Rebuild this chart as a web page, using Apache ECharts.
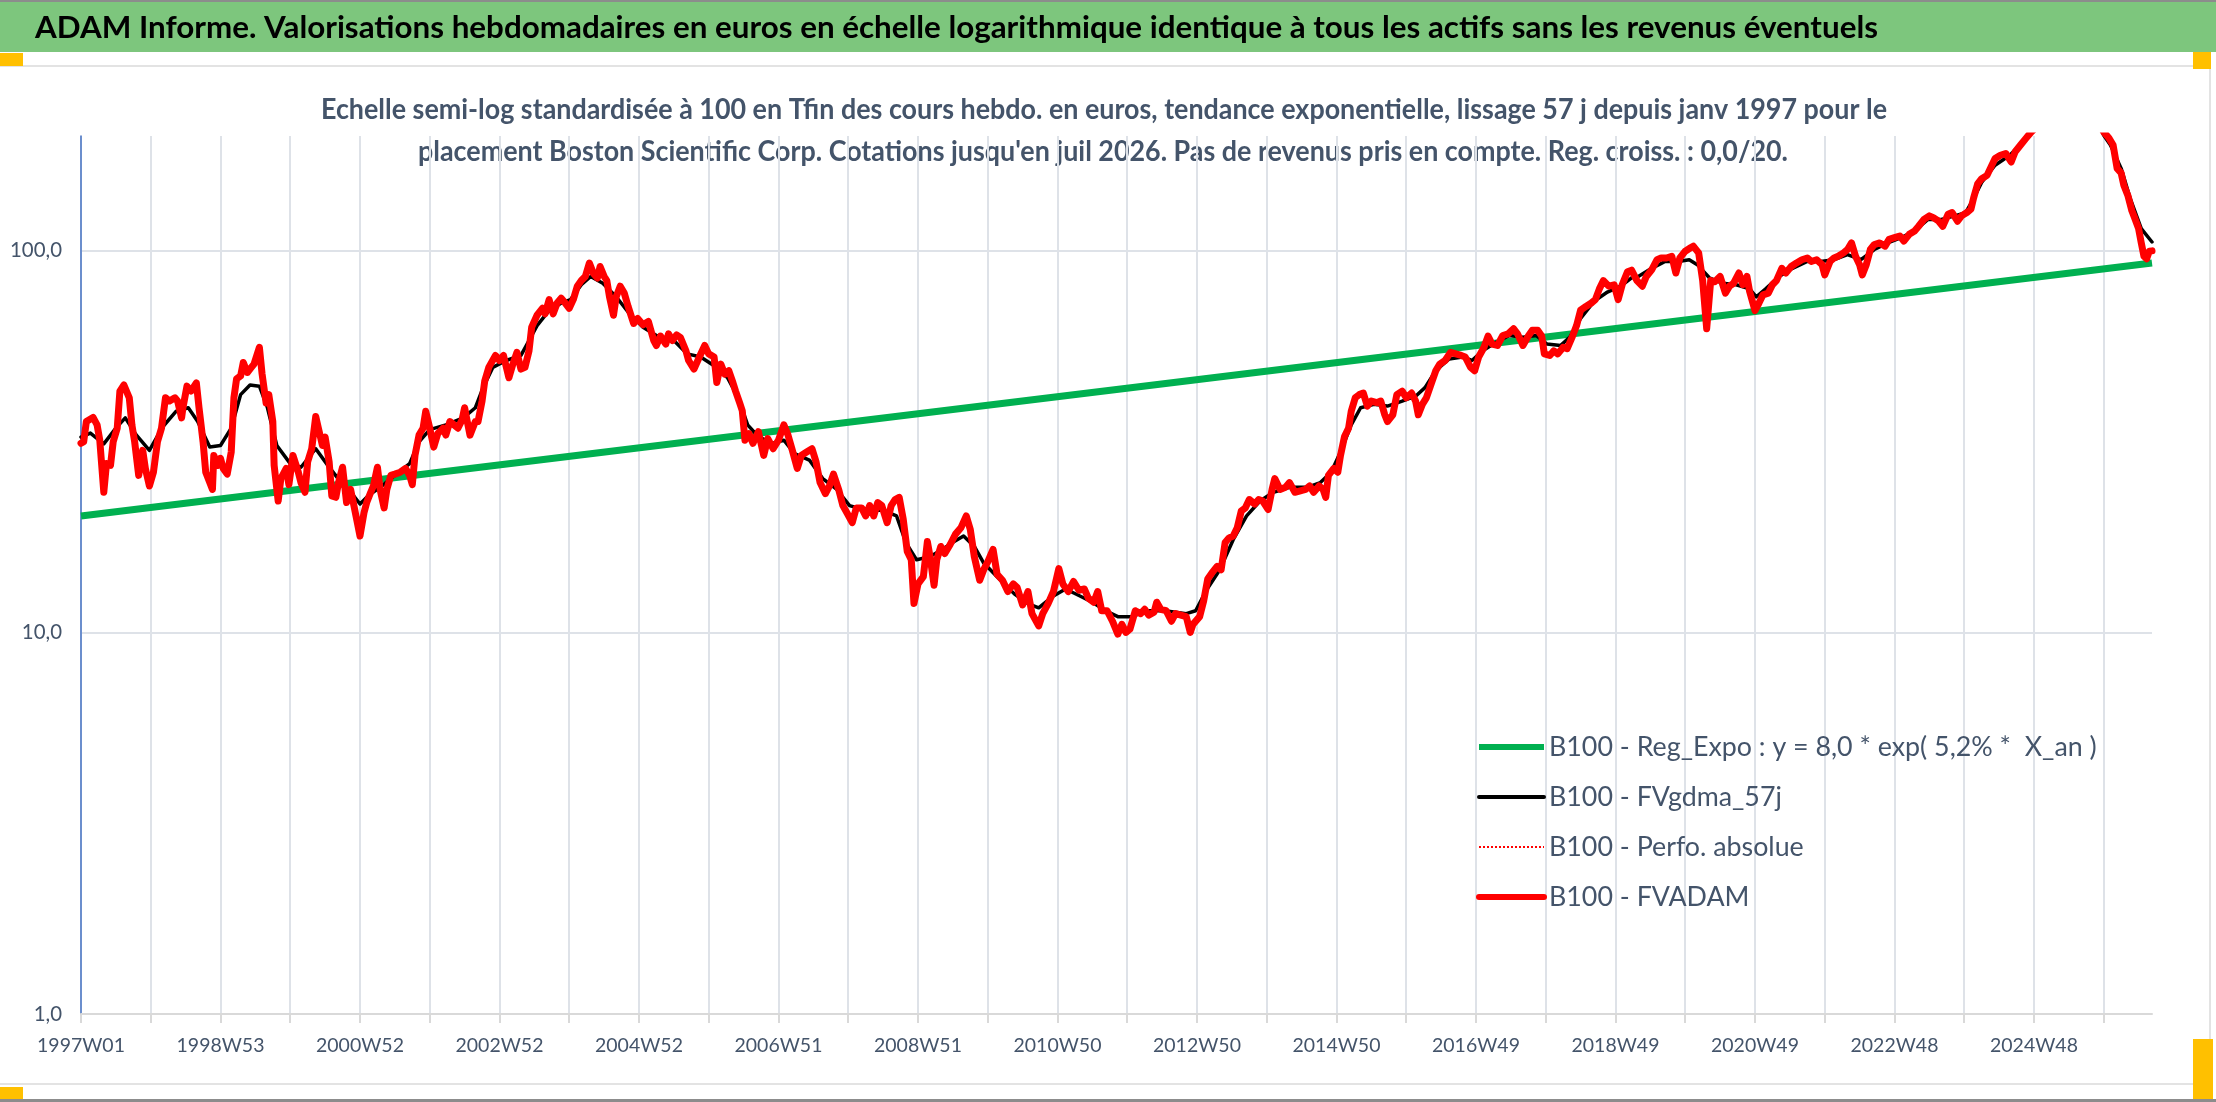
<!DOCTYPE html>
<html><head><meta charset="utf-8">
<script src="https://cdn.jsdelivr.net/npm/echarts@6/dist/echarts.min.js"></script>
<style>html,body{margin:0;padding:0;background:#fff;}#c{width:2216px;height:1102px;}</style>
</head><body><div id="c"></div><script>
// ---------- texts ----------
const TITLE = "ADAM Informe. Valorisations hebdomadaires en euros en échelle logarithmique identique à tous les actifs sans les revenus éventuels";
const SUB1 = "Echelle semi-log standardisée à 100 en Tfin des cours hebdo. en euros, tendance exponentielle, lissage 57 j depuis janv 1997 pour le";
const SUB2 = "placement Boston Scientific Corp. Cotations jusqu'en juil 2026. Pas de revenus pris en compte. Reg. croiss. : 0,0/20.";
const seriesNames = ["B100 - Reg_Expo : y = 8,0 * exp( 5,2% *  X_an )", "B100 - FVgdma_57j", "B100 - Perfo. absolue", "B100 - FVADAM"];

// ---------- categories: ISO weeks from 1997W01 ----------
const firstMonday = Date.UTC(1996, 11, 30);
const weekCount = 1545;
const categories = [];
for (let i = 0; i < weekCount; i++) {
  const thu = new Date(firstMonday + (i * 7 + 3) * 86400000);
  const y = thu.getUTCFullYear();
  const doy = Math.floor((thu - Date.UTC(y, 0, 1)) / 86400000) + 1;
  const wk = Math.floor((doy - 1) / 7) + 1;
  categories.push(y + 'W' + (wk < 10 ? '0' + wk : wk));
}

// ---------- data [week index, value] ----------
const regExpo = [[0, 20.2], [1544, 92.9]];

const fvgdma = [[0,32.5],[7,33.3],[17,31.2],[26,34.3],[33,36.5],[41,33.0],[51,30.0],[61,34.6],[71,38.0],[80,38.8],[87,35.7],[96,30.6],[104,30.9],[112,34.3],[119,42.0],[126,44.5],[133,44.2],[139,38.8],[146,30.9],[156,27.7],[164,27.1],[175,30.3],[184,27.4],[194,24.7],[202,23.1],[208,21.7],[214,22.8],[223,24.0],[234,25.8],[245,27.7],[252,31.6],[260,34.0],[272,35.0],[285,36.5],[294,38.8],[300,44.0],[307,49.5],[317,51.6],[328,53.2],[334,58.2],[340,63.7],[348,69.1],[358,73.0],[365,74.5],[373,81.5],[380,85.7],[389,82.2],[399,75.8],[409,68.4],[419,63.1],[429,60.0],[442,58.2],[452,53.7],[462,52.7],[472,50.0],[482,46.5],[490,41.2],[497,35.0],[505,32.6],[515,31.3],[524,31.9],[532,29.4],[543,28.3],[553,25.3],[563,23.8],[573,21.5],[585,20.9],[598,20.9],[608,20.2],[615,17.2],[623,15.5],[633,15.8],[643,16.6],[651,17.3],[658,17.9],[666,16.8],[673,15.2],[683,14.0],[696,12.6],[706,11.9],[714,11.6],[724,12.4],[734,13.0],[744,12.5],[754,12.0],[764,11.4],[773,11.0],[783,11.0],[796,11.4],[808,11.4],[824,11.2],[831,11.4],[839,12.9],[849,14.6],[859,17.5],[869,20.2],[879,22.1],[889,23.3],[901,24.0],[914,24.0],[924,24.7],[932,26.3],[939,29.7],[947,35.0],[954,38.8],[964,39.6],[974,39.2],[985,40.4],[995,41.6],[1002,43.8],[1010,48.5],[1020,52.1],[1030,52.7],[1037,51.6],[1045,54.7],[1055,57.6],[1065,60.0],[1075,59.4],[1085,60.0],[1093,57.0],[1103,56.5],[1110,59.4],[1118,66.5],[1128,73.7],[1138,78.0],[1148,80.8],[1156,85.0],[1161,85.7],[1171,90.0],[1181,93.8],[1191,93.8],[1199,94.8],[1205,92.0],[1214,85.0],[1224,82.2],[1234,81.5],[1244,79.5],[1249,75.8],[1256,79.5],[1266,85.7],[1276,90.0],[1287,93.8],[1297,93.8],[1307,94.8],[1317,97.8],[1327,94.8],[1337,100.8],[1347,104.9],[1357,108.3],[1367,112.7],[1377,120.9],[1387,120.9],[1397,123.5],[1405,126.0],[1410,135.0],[1417,151.2],[1427,167.7],[1438,178.1],[1448,193.2],[1455,205],[1465,218],[1475,226],[1485,229],[1495,226],[1503,214],[1508,201],[1513,189.4],[1521,164.5],[1528,136.4],[1536,114.4],[1544,105.5]];

const perfoAbsolue = [];

const fvadam = [[0,31.3],[2,31.6],[4,35.7],[9,36.6],[12,35.0],[14,31.9],[17,23.3],[19,27.7],[22,27.4],[24,31.6],[27,34.3],[29,42.9],[32,44.5],[36,41.2],[38,34.9],[40,31.6],[43,25.8],[46,30.0],[48,26.9],[51,24.2],[54,26.3],[57,31.6],[60,34.3],[63,41.2],[66,40.4],[70,41.2],[72,40.4],[75,36.5],[76,38.8],[79,44.2],[82,42.9],[86,45.1],[88,38.8],[91,31.6],[93,26.3],[96,24.7],[98,23.7],[99,29.1],[102,27.4],[104,28.6],[106,26.9],[109,26.0],[112,29.7],[114,41.2],[116,46.2],[119,47.0],[121,51.0],[124,48.0],[127,49.5],[129,50.5],[133,55.9],[135,47.6],[138,39.9],[140,42.0],[143,35.7],[144,27.4],[147,22.1],[149,25.3],[153,26.9],[155,24.4],[158,29.1],[162,26.3],[164,24.7],[167,23.3],[169,28.0],[172,30.3],[175,36.8],[177,34.3],[180,30.9],[182,32.5],[185,28.0],[187,22.8],[190,22.6],[192,24.7],[195,27.1],[198,21.9],[201,23.7],[203,21.9],[206,19.4],[208,17.9],[211,20.6],[213,21.9],[216,23.3],[218,24.2],[221,27.1],[223,23.7],[226,21.2],[228,23.7],[231,25.8],[234,26.0],[238,26.3],[242,26.9],[245,25.8],[247,24.4],[249,29.1],[252,32.9],[255,34.3],[257,38.0],[260,34.3],[263,30.6],[266,33.2],[270,34.3],[272,32.9],[275,35.7],[278,35.0],[281,34.3],[284,36.0],[286,38.8],[288,35.7],[290,32.9],[294,35.7],[296,35.7],[299,40.4],[301,45.6],[304,49.5],[309,53.2],[312,51.6],[315,53.2],[319,46.5],[322,50.5],[325,54.2],[328,49.0],[331,49.5],[334,54.7],[336,63.1],[340,67.8],[344,70.7],[346,68.4],[349,74.5],[352,68.4],[355,73.0],[358,75.2],[361,73.0],[364,70.7],[367,74.5],[370,80.8],[373,83.6],[376,85.7],[379,92.9],[382,87.3],[385,84.9],[387,91.0],[390,85.7],[392,83.6],[394,75.8],[397,67.8],[399,75.8],[402,80.8],[405,77.5],[408,71.3],[412,64.5],[415,66.5],[419,64.0],[423,65.3],[427,58.2],[429,56.5],[432,59.8],[436,57.0],[438,60.6],[441,58.2],[444,60.2],[447,59.2],[451,54.7],[453,51.6],[457,49.0],[461,52.7],[465,56.5],[468,53.7],[472,52.7],[474,45.2],[477,50.5],[480,47.5],[483,48.5],[486,45.2],[488,42.9],[491,40.0],[493,38.1],[495,31.9],[498,33.2],[501,31.3],[505,33.6],[509,29.1],[512,32.2],[516,30.3],[520,31.9],[524,35.0],[527,33.0],[530,30.3],[534,26.9],[537,29.1],[541,29.7],[545,30.3],[548,28.0],[551,24.7],[555,23.1],[558,24.2],[561,26.0],[565,23.6],[568,21.5],[571,20.6],[575,19.4],[578,21.2],[582,21.2],[585,20.2],[588,21.5],[591,20.2],[594,21.9],[597,21.5],[601,19.4],[604,21.5],[607,22.3],[610,22.6],[613,19.8],[616,16.3],[619,15.5],[621,11.9],[624,13.4],[628,14.0],[631,17.3],[633,15.8],[636,13.3],[638,15.5],[641,16.8],[644,16.1],[648,17.0],[652,18.1],[656,18.8],[660,20.2],[663,18.6],[666,15.8],[670,13.7],[673,14.6],[676,15.3],[680,16.5],[683,14.2],[687,13.7],[691,12.8],[695,13.4],[698,13.1],[702,11.8],[706,12.8],[709,11.2],[714,10.4],[717,11.2],[721,11.9],[725,12.8],[729,14.7],[732,13.4],[736,12.8],[740,13.6],[744,12.9],[748,13.0],[751,12.3],[755,12.0],[758,12.8],[761,11.4],[765,11.4],[769,10.7],[773,9.9],[776,10.5],[779,10.0],[782,10.2],[786,11.4],[790,11.2],[793,11.5],[796,11.1],[800,11.3],[802,12.0],[805,11.5],[809,11.4],[813,10.7],[816,11.2],[820,11.1],[824,11.0],[827,10.0],[829,10.5],[834,11.0],[837,12.1],[840,13.8],[843,14.3],[847,14.9],[850,14.6],[853,17.2],[856,17.7],[859,17.9],[862,18.8],[865,20.8],[868,21.2],[871,22.3],[875,21.7],[878,22.3],[881,22.1],[885,21.0],[888,23.7],[890,25.3],[894,23.7],[898,24.0],[901,24.7],[905,23.3],[909,23.5],[913,23.7],[916,24.2],[919,23.3],[923,24.2],[926,23.7],[928,22.6],[930,25.8],[934,26.9],[937,26.3],[939,29.1],[942,32.6],[945,34.3],[947,38.0],[950,41.2],[953,42.0],[956,42.4],[959,39.2],[962,40.4],[966,40.0],[969,40.4],[972,37.2],[974,35.7],[978,37.2],[981,42.0],[985,42.9],[988,41.2],[992,42.4],[995,40.4],[997,37.2],[1000,39.6],[1003,41.2],[1007,45.2],[1010,48.5],[1013,50.5],[1017,51.6],[1021,54.2],[1025,53.7],[1029,53.2],[1032,52.7],[1036,49.5],[1039,48.5],[1042,52.7],[1046,55.9],[1049,59.8],[1052,57.0],[1056,56.5],[1060,60.0],[1064,60.6],[1068,62.5],[1071,60.6],[1075,56.5],[1079,59.8],[1082,61.9],[1086,61.9],[1089,59.8],[1091,53.7],[1095,53.2],[1098,54.7],[1101,53.7],[1105,55.9],[1108,55.4],[1112,59.8],[1115,63.7],[1118,69.9],[1122,71.5],[1126,73.0],[1129,74.5],[1132,79.5],[1135,83.6],[1139,80.8],[1143,81.5],[1146,74.5],[1149,81.5],[1153,88.2],[1156,89.0],[1160,83.6],[1164,80.8],[1167,85.7],[1171,89.2],[1175,94.8],[1178,95.8],[1182,95.8],[1186,96.8],[1189,87.5],[1192,95.8],[1196,99.8],[1200,101.9],[1202,102.9],[1206,98.8],[1209,83.6],[1212,62.5],[1215,83.6],[1218,83.0],[1222,85.7],[1226,77.5],[1229,80.8],[1232,82.2],[1236,87.5],[1239,81.5],[1242,85.7],[1244,78.3],[1248,69.7],[1251,73.0],[1254,76.7],[1258,77.5],[1261,81.5],[1264,83.6],[1268,90.0],[1271,87.5],[1275,91.0],[1279,93.0],[1283,94.8],[1287,95.8],[1290,93.8],[1294,94.8],[1298,92.0],[1300,86.5],[1304,93.8],[1307,95.8],[1310,96.8],[1314,98.8],[1317,100.8],[1320,104.9],[1323,96.8],[1326,92.0],[1328,86.5],[1331,92.0],[1334,100.8],[1337,103.9],[1341,104.9],[1345,102.9],[1348,107.2],[1352,108.3],[1356,109.4],[1359,106.1],[1363,110.5],[1367,112.7],[1370,116.0],[1374,120.9],[1378,123.5],[1381,122.2],[1385,119.6],[1388,116.0],[1392,124.7],[1395,126.0],[1399,119.6],[1402,123.5],[1406,126.0],[1409,128.6],[1411,137.6],[1414,149.8],[1417,154.6],[1421,157.7],[1424,166.0],[1427,174.6],[1431,178.1],[1435,180.0],[1439,171.0],[1442,181.9],[1446,189.4],[1450,197.2],[1454,205],[1462,218],[1470,228],[1478,236],[1486,230],[1494,238],[1501,226],[1508,205],[1512,197.2],[1515,189.4],[1518,164.5],[1521,159.9],[1523,148.6],[1526,139.7],[1529,127.4],[1531,122.2],[1534,114.4],[1536,104.9],[1538,96.8],[1540,95.3],[1542,99.8],[1544,100.0]];

// ---------- font selection and sizing to the reference text boxes ----------
const mctx = document.createElement('canvas').getContext('2d');
function tw(font, s) { mctx.font = font; return mctx.measureText(s).width; }
function hasFont(f) {
  const s = 'abcdefghijklmnopqrstuvwxyzABCDEFGH0123456789';
  return tw('40px "' + f + '", monospace', s) !== tw('40px monospace', s);
}
const HEADNAME = ['Lato', 'Open Sans', 'DejaVu Sans'].find(hasFont);
const HEAD = HEADNAME ? '"' + HEADNAME + '"' : 'sans-serif';
const BODYNAME = ['Lato', 'DejaVu Sans Condensed', 'Liberation Sans'].find(hasFont);
const FAM = BODYNAME ? '"' + BODYNAME + '"' : 'sans-serif';
function fit(s, weight, fam, target) { return 100 * target / tw(weight + ' 100px ' + fam, s); }
// title / subtitle: size from cap height, then horizontal squeeze to the measured width
const fsTitle = 30.5, fsSub = 29;
const sxTitle = 1843 / tw('bold ' + fsTitle + 'px ' + HEAD, TITLE);
const sxSub = 1566 / tw('bold ' + fsSub + 'px ' + HEAD, SUB1);
const fsX = fit('1997W01', 'normal', FAM, 88);
const fsY = fit('100,0', 'normal', FAM, 52);
const fsLeg = fit(seriesNames[0], 'normal', FAM, 548);

const TXT = '#44546A';
const GRID = '#DEE2E8';

const chart = echarts.init(document.getElementById('c'), null, { renderer: 'canvas' });
chart.setOption({
  animation: false,
  backgroundColor: '#FFFFFF',
  graphic: [
    { type: 'rect', shape: { x: 0, y: 0, width: 2216, height: 52 }, style: { fill: '#7DC67D' }, silent: true },
    { type: 'rect', shape: { x: 0, y: 0, width: 2216, height: 2 }, style: { fill: '#8C8C8C' }, silent: true },
    { type: 'rect', shape: { x: 0, y: 65, width: 2210, height: 2 }, style: { fill: '#E3E3E3' }, silent: true },
    { type: 'rect', shape: { x: 0, y: 1083, width: 2210, height: 2 }, style: { fill: '#E3E3E3' }, silent: true },
    { type: 'rect', shape: { x: 2209, y: 66, width: 2, height: 1020 }, style: { fill: '#E3E3E3' }, silent: true },
    { type: 'rect', shape: { x: 0, y: 1099, width: 2216, height: 3 }, style: { fill: '#8C8C8C' }, silent: true },
    { type: 'rect', shape: { x: 0, y: 53, width: 23, height: 13 }, style: { fill: '#FFC000' }, silent: true },
    { type: 'rect', shape: { x: 2193, y: 52, width: 18, height: 17 }, style: { fill: '#FFC000' }, silent: true },
    { type: 'rect', shape: { x: 0, y: 1087, width: 23, height: 12 }, style: { fill: '#FFC000' }, silent: true },
    { type: 'rect', shape: { x: 2193, y: 1039, width: 20, height: 60 }, style: { fill: '#FFC000' }, silent: true },
    { type: 'text', x: 35, y: 28, scaleX: sxTitle, silent: true,
      style: { text: TITLE, fill: '#000000', fontWeight: 'bold', fontSize: fsTitle, fontFamily: HEAD, align: 'left', verticalAlign: 'middle' } },
    { type: 'text', x: 1104, y: 110, scaleX: sxSub, silent: true,
      style: { text: SUB1, fill: TXT, fontWeight: 'bold', fontSize: fsSub, fontFamily: HEAD, align: 'center', verticalAlign: 'middle' } },
    { type: 'text', x: 1103, y: 152, scaleX: sxSub, silent: true,
      style: { text: SUB2, fill: TXT, fontWeight: 'bold', fontSize: fsSub, fontFamily: HEAD, align: 'center', verticalAlign: 'middle' } }
  ],
  grid: { left: 81, right: 64, top: 136, bottom: 88 },
  legend: {
    orient: 'vertical', left: 1476, top: 732, padding: 0,
    itemWidth: 65, itemHeight: 14, itemGap: 20, selectedMode: false,
    textStyle: { color: TXT, fontSize: fsLeg, fontFamily: FAM, lineHeight: 30 },
    data: seriesNames.map((n, i) => ({ name: n, lineStyle: { width: [6, 4, 2, 6][i] }, itemStyle: { opacity: 0 } }))
  },
  xAxis: {
    type: 'category', data: categories, boundaryGap: false,
    axisLine: { lineStyle: { color: '#D9D9D9', width: 2 } },
    axisTick: { show: true, interval: 51, length: 9, lineStyle: { color: '#D9D9D9', width: 2 } },
    axisLabel: { interval: 103, margin: 22, color: TXT, fontSize: fsX, fontFamily: FAM },
    splitLine: { show: true, interval: 51, lineStyle: { color: GRID, width: 2 } }
  },
  yAxis: {
    type: 'log', logBase: 10, min: 1, max: 200,
    axisLine: { show: true, lineStyle: { color: '#4472C4', width: 1.5 } },
    axisTick: { show: false },
    axisLabel: { showMaxLabel: false, margin: 19, color: TXT, fontSize: fsY, fontFamily: FAM,
      formatter: v => Number(v).toFixed(1).replace('.', ',') },
    splitLine: { show: true, showMaxLine: false, lineStyle: { color: GRID, width: 2 } }
  },
  series: [
    { name: seriesNames[0], type: 'line', data: regExpo, symbol: 'none', silent: true,
      lineStyle: { color: '#00B050', width: 7 }, itemStyle: { color: '#00B050' } },
    { name: seriesNames[1], type: 'line', data: fvgdma, symbol: 'none', silent: true,
      lineStyle: { color: '#000000', width: 3.5, join: 'round', cap: 'round' }, itemStyle: { color: '#000000' } },
    { name: seriesNames[2], type: 'line', data: perfoAbsolue, symbol: 'none', silent: true,
      lineStyle: { color: '#FF0000', width: 2, type: 'dotted' }, itemStyle: { color: '#FF0000' } },
    { name: seriesNames[3], type: 'line', data: fvadam, symbol: 'none', silent: true,
      lineStyle: { color: '#FF0000', width: 7, join: 'round', cap: 'round' }, itemStyle: { color: '#FF0000' } }
  ]
});
</script></body></html>
